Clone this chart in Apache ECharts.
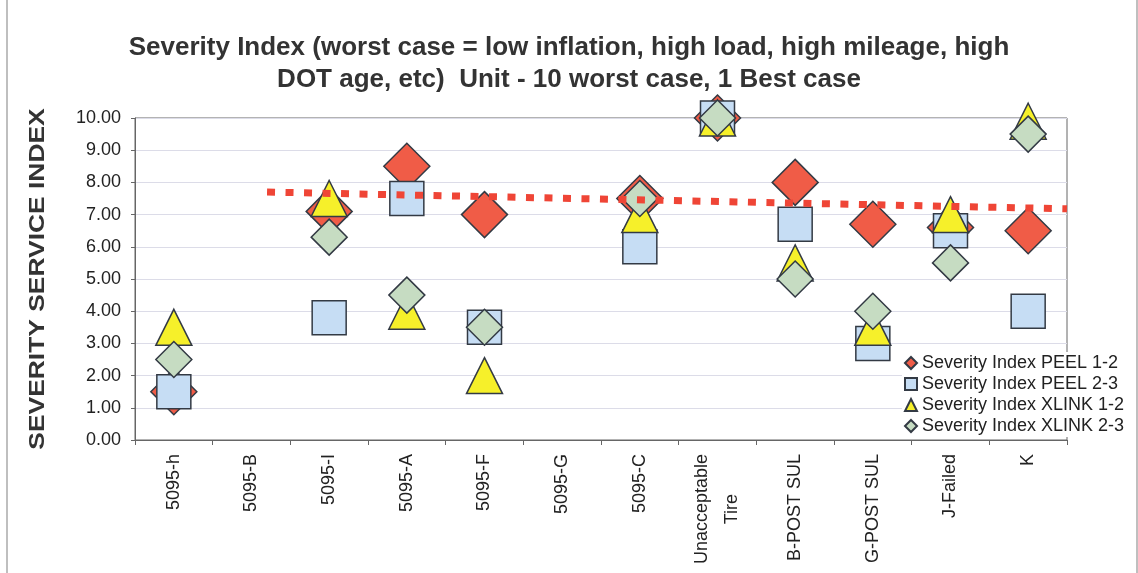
<!DOCTYPE html>
<html>
<head>
<meta charset="utf-8">
<script src="https://cdn.jsdelivr.net/npm/echarts@6/dist/echarts.min.js"></script>
<style>
  html, body { margin: 0; padding: 0; background: #fff; }
  #chart { width: 1138px; height: 573px; }
</style>
</head>
<body>
<div id="chart"></div>
<script>
// Test units along the category axis
const categories = ['5095-h', '5095-B', '5095-I', '5095-A', '5095-F', '5095-G', '5095-C',
  'Unacceptable\nTire', 'B-POST SUL', 'G-POST SUL', 'J-Failed', 'K'];

// Severity index per unit (null = not rated)
const peel12  = [1.5, null, 7.1, 8.5, 7.0, null, 7.5, 10, 8.0, 6.7, 6.6, 6.5];
const peel23  = [1.5, null, 3.8, 7.5, 3.5, null, 6.0, 10, 6.7, 3.0, 6.5, 4.0];
const xlink12 = [3.5, null, 7.5, 4.0, 2.0, null, 7.0, 10, 5.5, 3.5, 7.0, 9.9];
const xlink23 = [2.5, null, 6.3, 4.5, 3.5, null, 7.5, 10, 5.0, 4.0, 5.5, 9.5];

// Trend line: position along the unit axis (0 = first unit) and level
const trendX = [1.2, 11.5];
const trendY = [7.7, 7.18];

// Y axis range
const yMin = 0, yMax = 10, yStep = 1;

const seriesNames = [
  'Severity Index PEEL 1-2',
  'Severity Index PEEL 2-3',
  'Severity Index XLINK 1-2',
  'Severity Index XLINK 2-3'
];

const toData = arr => arr.map(v => (v === null ? '-' : v));
const edge = { borderColor: '#333a44', borderWidth: 1.5, opacity: 1 };

const chart = echarts.init(document.getElementById('chart'), null, { renderer: 'canvas' });

chart.setOption({
  backgroundColor: '#ffffff',
  animation: false,
  textStyle: { fontFamily: 'Arial, "Liberation Sans", sans-serif' },
  title: {
    text: 'Severity Index (worst case = low inflation, high load, high mileage, high\nDOT age, etc)  Unit - 10 worst case, 1 Best case',
    left: 'center',
    top: 32,
    padding: 0,
    textStyle: {
      fontSize: 26,
      fontWeight: 'bold',
      color: '#333333',
      lineHeight: 32,
      fontFamily: 'Arial, "Liberation Sans", sans-serif'
    }
  },
  legend: {
    data: seriesNames,
    orient: 'vertical',
    left: 902,
    top: 352,
    padding: [2, 4, 2, 2],
    itemGap: 3,
    itemWidth: 12,
    itemHeight: 12,
    backgroundColor: '#ffffff',
    textStyle: { fontSize: 18, color: '#222', lineHeight: 18 }
  },
  grid: {
    left: 135,
    right: 71,
    top: 118,
    bottom: 133,
    show: true,
    borderColor: '#666',
    borderWidth: 1
  },
  xAxis: [
    {
      type: 'category',
      data: categories,
      boundaryGap: true,
      axisLine: { onZero: false, lineStyle: { color: '#666', width: 1 } },
      axisTick: { show: true, length: 5, alignWithLabel: false, lineStyle: { color: '#666' } },
      axisLabel: {
        rotate: 90,
        margin: 14,
        fontSize: 18,
        lineHeight: 30,
        color: '#222',
        interval: 0,
        formatter: v => {
          const parts = v.split('\n');
          if (parts.length === 1) return v;
          return parts[0] + '\n{c|' + parts[1] + '}';
        },
        rich: { c: { align: 'center', fontSize: 18, lineHeight: 30, color: '#222' } }
      },
      splitLine: { show: false }
    },
    {
      type: 'value',
      min: -0.5,
      max: 11.5,
      show: false
    }
  ],
  yAxis: {
    type: 'value',
    min: yMin,
    max: yMax,
    interval: yStep,
    axisLine: { show: true, onZero: false, lineStyle: { color: '#666' } },
    axisTick: { show: true, length: 4, lineStyle: { color: '#666' } },
    axisLabel: {
      margin: 14,
      fontSize: 18,
      color: '#222',
      formatter: v => v.toFixed(2)
    },
    splitLine: { show: true, lineStyle: { color: '#dcdce8', width: 1 } }
  },
  graphic: [
    {
      type: 'text',
      x: 38,
      y: 279,
      rotation: Math.PI / 2,
      scaleX: 1.2,
      style: {
        text: 'SEVERITY SERVICE INDEX',
        font: 'bold 22px Arial, "Liberation Sans", sans-serif',
        fill: '#333333',
        align: 'center',
        verticalAlign: 'middle'
      }
    },
    { type: 'line', shape: { x1: 7, y1: 0, x2: 7, y2: 573 }, style: { stroke: '#aaaaaa', lineWidth: 1.5 } },
    { type: 'line', shape: { x1: 1137, y1: 0, x2: 1137, y2: 573 }, style: { stroke: '#aaaaaa', lineWidth: 1.5 } }
  ],
  series: [
    {
      name: seriesNames[0],
      type: 'scatter',
      data: toData(peel12),
      symbol: 'diamond',
      symbolSize: 46,
      itemStyle: Object.assign({ color: '#f05c47' }, edge),
      z: 2
    },
    {
      name: seriesNames[1],
      type: 'scatter',
      data: toData(peel23),
      symbol: 'rect',
      symbolSize: 34,
      itemStyle: Object.assign({ color: '#c6ddf4' }, edge),
      z: 3
    },
    {
      name: seriesNames[2],
      type: 'scatter',
      data: toData(xlink12),
      symbol: 'triangle',
      symbolSize: 36,
      itemStyle: Object.assign({ color: '#f6f02a' }, edge),
      z: 4
    },
    {
      name: seriesNames[3],
      type: 'scatter',
      data: toData(xlink23),
      symbol: 'diamond',
      symbolSize: 36,
      itemStyle: Object.assign({ color: '#c6dcc2' }, edge),
      z: 5
    },
    {
      name: 'trend',
      type: 'line',
      xAxisIndex: 1,
      data: trendX.map((x, i) => [x, trendY[i]]),
      showSymbol: false,
      symbol: 'none',
      silent: true,
      lineStyle: { color: '#ef4536', width: 7, type: [8, 10.5], cap: 'butt' },
      z: 6
    }
  ]
});
</script>
</body>
</html>
